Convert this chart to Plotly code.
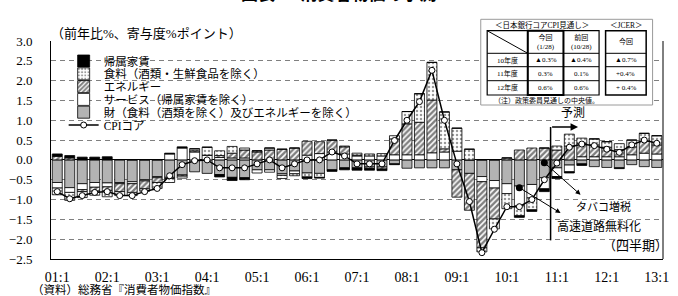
import plotly.graph_objects as go

# ---------------- data ----------------
tick_labels = ["01:1", "02:1", "03:1", "04:1", "05:1", "06:1", "07:1",
               "08:1", "09:1", "10:1", "11:1", "12:1", "13:1"]
n_q = 49
quarter_idx = list(range(n_q))

series_names = ["帰属家賃", "食料（酒類・生鮮食品を除く）", "エネルギー",
                "サービス（帰属家賃を除く）", "財（食料（酒類を除く）及びエネルギーを除く）", "CPIコア"]

housing = [0.06, 0.06, 0.07, 0.07, 0.08, 0.01, 0.0, 0.0, 0.0, 0.02,
           0.03, 0.0, 0.0, -0.06, -0.08, -0.05, 0.0, 0.0, 0.0, 0.0,
           -0.04, -0.02, -0.04, -0.05, -0.06, -0.04, -0.04, -0.02, 0.0, 0.0,
           0.0, 0.0, 0.0, 0.0, 0.0, 0.0, 0.0, -0.04, -0.04, -0.07,
           -0.05, -0.03, -0.04, 0.0, 0.0, -0.02, 0.0, 0.0, 0.0]
food = [-0.17, -0.2, -0.15, -0.1, -0.15, -0.1, -0.08, -0.06, -0.15, -0.1,
        -0.05, 0.05, 0.2, 0.12, 0.17, 0.05, 0.03, 0.05, -0.08, -0.05,
        -0.1, -0.1, 0.0, 0.02, 0.05, 0.05, 0.06, 0.08, 0.31, 0.72,
        0.95, 0.93, 0.58, 0.27, -0.1, -0.25, -0.38, -0.25, -0.3, 0.0,
        0.1, 0.3, 0.13, 0.15, 0.14, 0.15, 0.17, 0.2, 0.23]
energy = [0.09, 0.05, -0.05, -0.1, -0.1, -0.2, -0.22, -0.2, -0.12, -0.03,
          -0.03, 0.03, 0.0, 0.05, 0.12, 0.2, 0.2, 0.25, 0.27, 0.3,
          0.35, 0.3, 0.3, 0.18, 0.02, -0.04, -0.05, 0.4, 0.78, 0.82,
          1.33, 0.08, -0.69, -0.93, -1.67, -0.78, 0.05, 0.25, 0.3, 0.3,
          0.25, 0.35, 0.34, 0.3, 0.24, 0.18, 0.2, 0.3, 0.23]
services = [-0.14, -0.12, -0.15, -0.12, -0.1, -0.03, -0.05, -0.03, -0.03, 0.15,
            0.3, 0.2, 0.12, 0.06, 0.05, 0.05, -0.08, -0.06, -0.04, -0.07,
            0.12, 0.16, 0.2, 0.15, 0.1, 0.1, 0.1, 0.13, 0.13, 0.13,
            0.18, 0.2, 0.22, 0.0, -0.13, -0.19, -0.25, -0.5, -0.34, -0.28,
            -0.22, -0.17, 0.08, 0.08, 0.08, 0.08, 0.13, 0.17, 0.15]
goods = [-0.57, -0.7, -0.6, -0.57, -0.58, -0.57, -0.55, -0.5, -0.42, -0.44,
         -0.38, -0.3, -0.34, -0.37, -0.44, -0.45, -0.25, -0.25, -0.35, -0.28,
         -0.33, -0.34, -0.25, -0.2, -0.2, -0.18, -0.18, -0.1, -0.21, -0.2,
         -0.2, -0.2, -0.25, -0.34, -0.42, -0.52, -0.6, -0.66, -0.62, -0.45,
         -0.2, -0.13, -0.1, -0.17, -0.19, -0.2, -0.12, -0.17, -0.19]
core = [-0.8, -0.98, -0.9, -0.82, -0.8, -0.9, -0.9, -0.8, -0.72, -0.4,
        -0.12, -0.02, 0.0, -0.2, -0.2, -0.2, -0.1, 0.0, -0.2, -0.1,
        0.0, 0.0, 0.2, 0.1, -0.1, -0.1, -0.1, 0.49, 1.0, 1.47,
        2.26, 1.0, -0.1, -1.05, -2.34, -1.75, -1.18, -1.18, -1.0, -0.5,
        -0.08, 0.32, 0.4, 0.36, 0.27, 0.19, 0.38, 0.5, 0.42]

event_idx = [39, 37]
event_val = [-0.07, -0.7]
event_labels = ["タバコ増税", "高速道路無料化"]
forecast_start = 39.5

table_title_boj = "＜日本銀行コアCPI見通し＞"
table_title_jcer = "＜JCER＞"
table_rows = ["10年度", "11年度", "12年度"]
table_heads = ["今回<br>(1/28)", "前回<br>(10/28)", "今回"]
boj_now = ["▲0.3%", "0.3%", "0.6%"]
boj_prev = ["▲0.4%", "0.1%", "0.6%"]
jcer_now = ["▲0.7%", "+0.4%", "+ 0.4%"]
table_note = "（注）政策委員見通しの中央値。"

# ---------------- figure ----------------
W, H = 678, 296
ML, MR, MT, MB = 40, 9, 41, 37
PW, PH = W - ML - MR, H - MT - MB
FONT = "Liberation Serif, Noto Sans CJK JP, serif"


def px(x):
    return (x - ML) / PW


def py(y):
    return (H - MB - y) / PH


fig = go.Figure()


def add_bar(name, vals, color, legend, pattern=None):
    marker = dict(color=color, line=dict(color="black", width=0.8))
    if pattern:
        marker["pattern"] = pattern
    fig.add_trace(go.Bar(x=quarter_idx, y=vals, name=name, marker=marker,
                         width=0.8, legend=legend))


add_bar(series_names[4], goods, "#b3b3b3", "legend5")
add_bar(series_names[3], services, "white", "legend4")
add_bar(series_names[2], energy, "white", "legend3",
        dict(shape="/", fgcolor="black", bgcolor="white", size=4, solidity=0.6))
add_bar(series_names[1], food, "white", "legend2",
        dict(shape=".", fgcolor="#333333", bgcolor="white", size=4, solidity=0.3))
add_bar(series_names[0], housing, "black", "legend")

fig.add_trace(go.Scatter(x=quarter_idx, y=core, mode="lines+markers", name=series_names[5],
                         line=dict(color="black", width=1.5),
                         marker=dict(symbol="circle", size=6, color="white",
                                     line=dict(color="black", width=1)),
                         legend="legend6"))

fig.add_trace(go.Scatter(x=event_idx, y=event_val, mode="markers", showlegend=False,
                         marker=dict(symbol="circle", size=7, color="black")))

# legends, one per row to reproduce the tight spacing
legend_rows = [61, 73.8, 86.6, 99.4, 112.2, 125]
for i, yy in enumerate(legend_rows):
    key = "legend" if i == 0 else f"legend{i + 1}"
    fig.update_layout({key: dict(x=px(53), y=py(yy), xanchor="left", yanchor="middle",
                                 bgcolor="rgba(0,0,0,0)", borderwidth=0,
                                 font=dict(family=FONT, size=11.5, color="black"))})

fig.update_layout(width=W, height=H, margin=dict(l=ML, r=MR, t=MT, b=MB),
                  barmode="relative", plot_bgcolor="white", paper_bgcolor="white",
                  font=dict(family=FONT, size=13, color="black"), showlegend=True)

fig.update_xaxes(range=[-0.5, 48.5], tickvals=list(range(0, 49, 4)), ticktext=tick_labels,
                 showgrid=False, zeroline=False, showline=True, linecolor="black",
                 linewidth=1, ticks="", ticklabelstandoff=5,
                 tickfont=dict(family=FONT, size=14))
fig.update_yaxes(range=[-2.5, 3.0], tick0=0, dtick=0.5, tickformat=".1f",
                 showgrid=True, gridcolor="#808080", griddash="5px,4px", gridwidth=1,
                 zeroline=True, zerolinecolor="black", zerolinewidth=1,
                 showline=True, linecolor="black", linewidth=1, ticks="",
                 ticklabelstandoff=15, tickfont=dict(family=FONT, size=13))

shapes = []
# right frame
shapes.append(dict(type="line", xref="paper", yref="paper", x0=1, x1=1, y0=0, y1=1,
                   line=dict(color="black", width=1)))
# forecast divider
shapes.append(dict(type="line", xref="x", yref="y", x0=forecast_start, x1=forecast_start,
                   y0=-2.03, y1=0.83, line=dict(color="black", width=1.5)))


def prect(x0, y0, x1, y1, color="black", width=1, fill=None):
    d = dict(type="rect", xref="paper", yref="paper", x0=px(x0), x1=px(x1),
             y0=py(y1), y1=py(y0), line=dict(color=color, width=width), layer="above")
    if fill:
        d["fillcolor"] = fill
    shapes.append(d)


def pline(x0, y0, x1, y1, width=1, color="black"):
    shapes.append(dict(type="line", xref="paper", yref="paper", x0=px(x0), x1=px(x1),
                       y0=py(y0), y1=py(y1), line=dict(color=color, width=width),
                       layer="above"))


# inset table
prect(481.7, 19.3, 658.3, 105, color="#9a9a9a", width=1, fill="white")
prect(488.3, 30.7, 603.3, 95, width=1.2)
col_x = [488.3, 530, 566.7, 603.3]
row_y = [30.7, 53.3, 66.7, 80.7, 95]
for cx in col_x[1:3]:
    pline(cx, 30.7, cx, 95)
for ry in row_y[1:4]:
    pline(488.3, ry, 603.3, ry)
    pline(610, ry, 651.7, ry)
pline(488.3, 30.7, 530, 53.3)
prect(530, 30.7, 566.7, 95, width=2)
prect(610, 30.7, 651.7, 95, width=1.5)

fig.update_layout(shapes=shapes)

ann = []


def ptext(x, y, text, size=8, xanchor="center", yanchor="middle"):
    ann.append(dict(xref="paper", yref="paper", x=px(x), y=py(y), text=text,
                    showarrow=False, xanchor=xanchor, yanchor=yanchor,
                    font=dict(family=FONT, size=size, color="black")))


ptext(545, 25, table_title_boj, 7.5)
ptext(631, 25, table_title_jcer, 7.5)
head_x = [548.3, 585, 630.8]
for hx, ht in zip(head_x, table_heads):
    ptext(hx, 42, ht, 7)
row_cy = [60, 73.7, 87.8]
for ry, lab, a, b, c in zip(row_cy, table_rows, boj_now, boj_prev, jcer_now):
    ptext(509, ry, lab, 7)
    ptext(548.3, ry, a, 7)
    ptext(585, ry, b, 7)
    ptext(630.8, ry, c, 7)
ptext(493, 100.5, table_note, 7, xanchor="left")

# title (cut at the top edge as in the source) and axis notes
ptext(335.5, -5, "<b>図表1　消費者物価の予測</b>", 17)
ptext(38, 33, "（前年比%、寄与度%ポイント）", 13, xanchor="left")
ptext(18, 289, "（資料）総務省『消費者物価指数』", 11.5, xanchor="left")

# forecast arrow & text
ann.append(dict(xref="x", yref="y", x=41.7, y=0.83, ax=forecast_start, ay=0.83,
                axref="x", ayref="y", text="", showarrow=True, arrowhead=2,
                arrowsize=1, arrowwidth=1.5, arrowcolor="black"))
ann.append(dict(xref="x", yref="y", x=41.3, y=1.18, text="予測", showarrow=False,
                font=dict(family=FONT, size=12)))

# event arrows & labels
ann.append(dict(xref="x", yref="y", x=41.9, y=-0.88, ax=event_idx[0], ay=event_val[0],
                axref="x", ayref="y", text="", showarrow=True, arrowhead=2,
                arrowsize=1, arrowwidth=1, arrowcolor="black"))
ann.append(dict(xref="x", yref="y", x=40.3, y=-1.34, ax=event_idx[1], ay=event_val[1],
                axref="x", ayref="y", text="", showarrow=True, arrowhead=2,
                arrowsize=1, arrowwidth=1, arrowcolor="black"))
ann.append(dict(xref="x", yref="y", x=43.7, y=-1.18, text=event_labels[0], showarrow=False,
                font=dict(family=FONT, size=11)))
ann.append(dict(xref="x", yref="y", x=43.4, y=-1.69, text=event_labels[1], showarrow=False,
                font=dict(family=FONT, size=12)))
ann.append(dict(xref="x", yref="y", x=46.3, y=-2.17, text="（四半期）", showarrow=False,
                font=dict(family=FONT, size=13)))

fig.update_layout(annotations=ann)

fig.write_html("out.html")
